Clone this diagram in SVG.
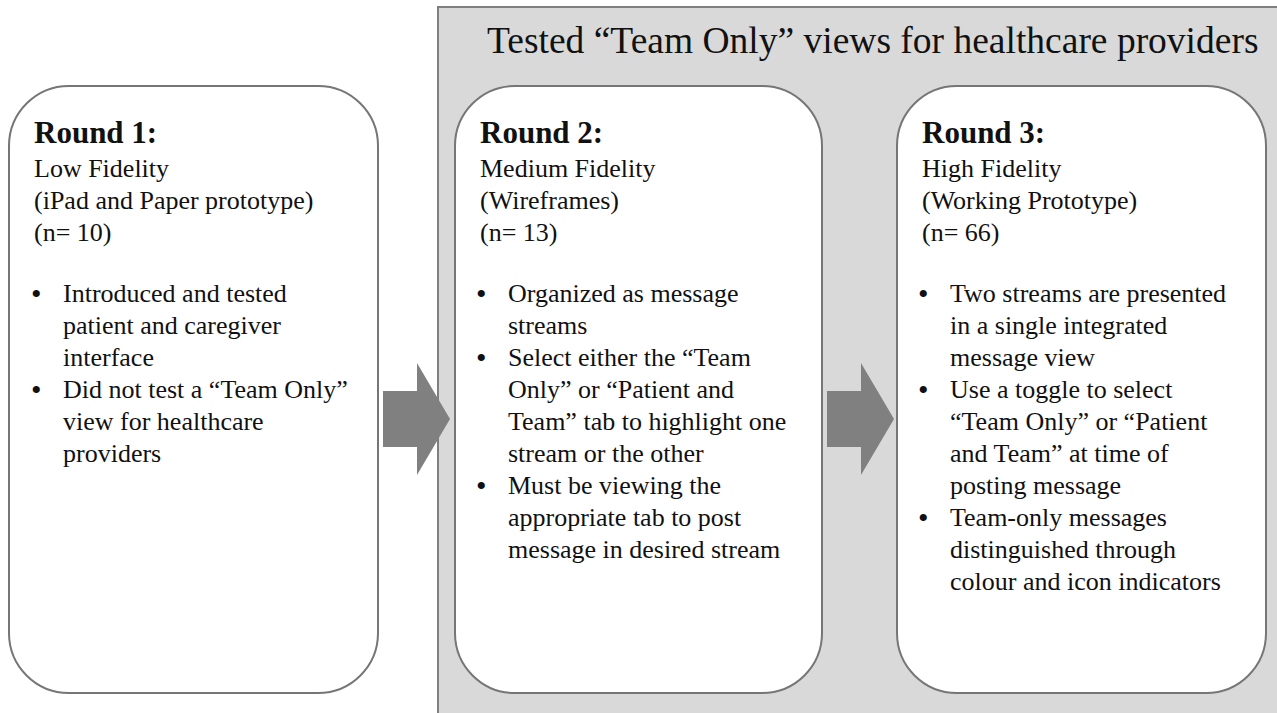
<svg xmlns="http://www.w3.org/2000/svg" width="1277" height="713" viewBox="0 0 1277 713">
<style>
.panel{fill:#d9d9d9;stroke:#7f7f7f;stroke-width:2}
.box{fill:#ffffff;stroke:#767676;stroke-width:2}
.arrow{fill:#808080;stroke:none}
text{font-family:"Liberation Serif","Times New Roman",serif;fill:#111}
.h{font-size:31px;font-weight:bold}
.t{font-size:26px}
.b{font-size:30px}
.title{font-size:37.5px}
</style>
<rect width="1277" height="713" fill="#ffffff"/>
<g id="panel">
<rect class="panel" x="438" y="7" width="860" height="730"/>
<text class="title" x="487" y="53">Tested “Team Only” views for healthcare providers</text>
</g>
<g id="round1">
<rect class="box" x="9" y="86" width="369" height="607" rx="60" ry="60"/>
<text class="h" x="34" y="143">Round 1:</text>
<text class="t" x="34" y="177">Low Fidelity</text>
<text class="t" x="34" y="209">(iPad and Paper prototype)</text>
<text class="t" x="34" y="241">(n= 10)</text>
<text class="b" x="31" y="304">•</text>
<text class="t" x="63" y="302">Introduced and tested</text>
<text class="t" x="63" y="334">patient and caregiver</text>
<text class="t" x="63" y="366">interface</text>
<text class="b" x="31" y="400">•</text>
<text class="t" x="63" y="398">Did not test a “Team Only”</text>
<text class="t" x="63" y="430">view for healthcare</text>
<text class="t" x="63" y="462">providers</text>
</g>
<g id="round2">
<rect class="box" x="455" y="86" width="367" height="607" rx="60" ry="60"/>
<text class="h" x="480" y="143">Round 2:</text>
<text class="t" x="480" y="177">Medium Fidelity</text>
<text class="t" x="480" y="209">(Wireframes)</text>
<text class="t" x="480" y="241">(n= 13)</text>
<text class="b" x="476" y="304">•</text>
<text class="t" x="508" y="302">Organized as message</text>
<text class="t" x="508" y="334">streams</text>
<text class="b" x="476" y="368">•</text>
<text class="t" x="508" y="366">Select either the “Team</text>
<text class="t" x="508" y="398">Only” or “Patient and</text>
<text class="t" x="508" y="430">Team” tab to highlight one</text>
<text class="t" x="508" y="462">stream or the other</text>
<text class="b" x="476" y="496">•</text>
<text class="t" x="508" y="494">Must be viewing the</text>
<text class="t" x="508" y="526">appropriate tab to post</text>
<text class="t" x="508" y="558">message in desired stream</text>
</g>
<g id="round3">
<rect class="box" x="897" y="86" width="369" height="607" rx="60" ry="60"/>
<text class="h" x="922" y="143">Round 3:</text>
<text class="t" x="922" y="177">High Fidelity</text>
<text class="t" x="922" y="209">(Working Prototype)</text>
<text class="t" x="922" y="241">(n= 66)</text>
<text class="b" x="918" y="304">•</text>
<text class="t" x="950" y="302">Two streams are presented</text>
<text class="t" x="950" y="334">in a single integrated</text>
<text class="t" x="950" y="366">message view</text>
<text class="b" x="918" y="400">•</text>
<text class="t" x="950" y="398">Use a toggle to select</text>
<text class="t" x="950" y="430">“Team Only” or “Patient</text>
<text class="t" x="950" y="462">and Team” at time of</text>
<text class="t" x="950" y="494">posting message</text>
<text class="b" x="918" y="528">•</text>
<text class="t" x="950" y="526">Team-only messages</text>
<text class="t" x="950" y="558">distinguished through</text>
<text class="t" x="950" y="590">colour and icon indicators</text>
</g>
<g id="connectors">
<polygon class="arrow" points="383,391 417,391 417,363 450,419 417,475 417,447 383,447"/>
<polygon class="arrow" points="827,391 861,391 861,363 894,419 861,475 861,447 827,447"/>
</g>
</svg>
